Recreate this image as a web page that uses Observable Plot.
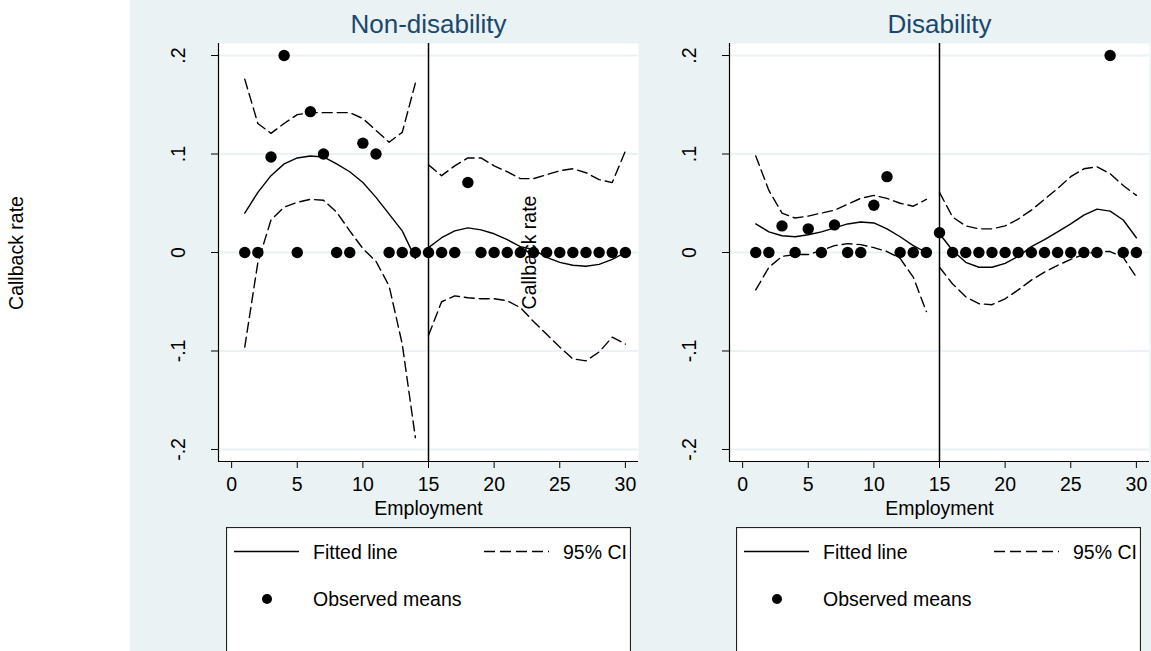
<!DOCTYPE html>
<html><head><meta charset="utf-8">
<script src="https://cdn.jsdelivr.net/npm/d3@7"></script>
<script src="https://cdn.jsdelivr.net/npm/@observablehq/plot@0.6"></script>
<style>
html,body{margin:0;padding:0;background:#fff;}
#page{position:relative;width:1151px;height:651px;overflow:hidden;background:#fff;font-family:"Liberation Sans",Arial,sans-serif;}
#bg{position:absolute;left:130px;top:0;width:1021px;height:651px;background:#EAF2F3;}
.abs{position:absolute;}
#ylab{position:absolute;left:17px;top:253px;transform:translate(-50%,-50%) rotate(-90deg);white-space:nowrap;font-size:19.5px;line-height:1;color:#000;}
</style></head>
<body><div id="page"><div id="bg"></div>
<div id="ylab">Callback rate</div>
<div id="p1" class="abs" style="left:130px;top:0"></div>
<div id="p2" class="abs" style="left:640px;top:0"></div>
<div id="l1" class="abs" style="left:226px;top:527px"></div>
<div id="l2" class="abs" style="left:736px;top:527px"></div>
</div>
<script>
const employment = [1,2,3,4,5,6,7,8,9,10,11,12,13,14,15,16,17,18,19,20,21,22,23,24,25,26,27,28,29,30];
const cutoff = 15;
const panelTitles = ["Non-disability", "Disability"];
const xLabel = "Employment";
const yLabel = "Callback rate";
const xTicks = [0,5,10,15,20,25,30];
const yTickValues = [0.2,0.1,0,-0.1,-0.2];
const yTickLabels = [".2",".1","0","-.1","-.2"];
const xDomain = [-1, 31];
const yDomain = [-0.2122, 0.2122];
const legendLabels = ["Fitted line", "95% CI", "Observed means"];

const nonDisMeans = [0,0,0.097,0.2,0,0.143,0.1,0,0,0.111,0.1,0,0,0,0,0,0,0.071,0,0,0,0,0,0,0,0,0,0,0,0];
const nonDisFit = [0.040,0.061,0.078,0.090,0.096,0.098,0.097,0.090,0.082,0.071,0.056,0.039,0.022,-0.006,
  0.005,0.015,0.022,0.025,0.023,0.019,0.013,0.006,0.003,-0.005,-0.010,-0.013,-0.014,-0.012,-0.007,0.000];
const nonDisHi = [0.176,0.131,0.121,0.131,0.140,0.142,0.142,0.142,0.142,0.136,0.124,0.112,0.122,0.172,
  0.089,0.078,0.088,0.096,0.096,0.088,0.082,0.075,0.075,0.079,0.083,0.085,0.081,0.074,0.071,0.103];
const nonDisLo = [-0.096,-0.010,0.033,0.046,0.051,0.054,0.053,0.041,0.022,0.004,-0.009,-0.034,-0.093,-0.188,
  -0.084,-0.050,-0.044,-0.046,-0.047,-0.047,-0.049,-0.056,-0.070,-0.083,-0.096,-0.108,-0.110,-0.101,-0.086,-0.093];

const disMeans = [0,0,0.027,0,0.024,0,0.028,0,0,0.048,0.077,0,0,0,0.020,0,0,0,0,0,0,0,0,0,0,0,0,0.2,0,0];
const disFit = [0.029,0.021,0.017,0.016,0.018,0.021,0.025,0.029,0.031,0.030,0.024,0.016,0.007,0.000,
  0.019,0.002,-0.010,-0.015,-0.015,-0.011,-0.004,0.006,0.013,0.021,0.029,0.038,0.044,0.042,0.033,0.015];
const disHi = [0.098,0.063,0.040,0.035,0.037,0.040,0.043,0.049,0.055,0.058,0.055,0.050,0.047,0.054,
  0.061,0.036,0.027,0.024,0.024,0.027,0.034,0.043,0.054,0.065,0.077,0.085,0.087,0.080,0.068,0.058];
const disLo = [-0.038,-0.015,-0.004,-0.002,-0.002,0.002,0.007,0.009,0.008,0.005,0.001,-0.006,-0.025,-0.060,
  -0.015,-0.032,-0.045,-0.052,-0.053,-0.047,-0.038,-0.028,-0.020,-0.013,-0.007,-0.002,0.001,0.001,-0.005,-0.025];

const FONT = '"Liberation Sans", Arial, sans-serif';

function panel(title, means, fit, lo, hi, o) {
  const rows = employment.map((e, i) => ({x: e, seg: e < cutoff ? "pre" : "post", mean: means[i], fit: fit[i], lo: lo[i], hi: hi[i]}));
  const extra = o.innerLabel ? [Plot.text([yLabel], {frameAnchor: "left", dx: o.innerLabel, rotate: -90, textAnchor: "middle", lineAnchor: "middle", text: d => d})] : [];
  return Plot.plot({
    width: o.width, height: 520,
    marginLeft: o.ml, marginRight: o.mr, marginTop: 43, marginBottom: 59,
    x: {domain: xDomain, axis: null},
    y: {domain: yDomain, axis: null},
    style: {background: "transparent", fontFamily: FONT, fontSize: "19.5px", color: "black", overflow: "visible"},
    marks: [
      Plot.frame({fill: "white", stroke: "none"}),
      Plot.ruleY(yTickValues, {stroke: "#EAF2F3", strokeWidth: 2}),
      Plot.ruleX([cutoff], {stroke: "black", strokeWidth: 1.5}),
      Plot.line(rows, {x: "x", y: "hi", z: "seg", stroke: "black", strokeWidth: 1.4, strokeDasharray: "10,5"}),
      Plot.line(rows, {x: "x", y: "lo", z: "seg", stroke: "black", strokeWidth: 1.4, strokeDasharray: "10,5"}),
      Plot.line(rows, {x: "x", y: "fit", z: "seg", stroke: "black", strokeWidth: 1.4}),
      Plot.dot(rows, {x: "x", y: "mean", r: 5.7, fill: "black"}),
      Plot.ruleX([xDomain[0]], {stroke: "black", strokeWidth: 1.2}),
      Plot.ruleY([yDomain[0]], {stroke: "black", strokeWidth: 1.2}),
      Plot.axisX({ticks: xTicks, tickSize: 7, tickPadding: 9, label: null, tickFormat: d => String(d)}),
      Plot.axisY({ticks: yTickValues, tickSize: 7, label: null, tickFormat: () => ""}),
      Plot.text(yTickValues, {y: d => d, frameAnchor: "left", dx: -40, rotate: -90, text: (d, i) => yTickLabels[i], textAnchor: "middle", lineAnchor: "middle"}),
      Plot.text([xLabel], {frameAnchor: "bottom", dy: 40, lineAnchor: "top", text: d => d}),
      Plot.text([title], {frameAnchor: "top", dy: -19, lineAnchor: "middle", fontSize: 26, fill: "#1A476F", text: d => d}),
      ...extra
    ]
  });
}

document.getElementById("p1").appendChild(panel(panelTitles[0], nonDisMeans, nonDisFit, nonDisLo, nonDisHi, {width: 520, ml: 88, mr: 12, innerLabel: 311}));
document.getElementById("p2").appendChild(panel(panelTitles[1], disMeans, disFit, disLo, disHi, {width: 511, ml: 89, mr: 2}));

function legend(w) {
  const svg = d3.create("svg").attr("width", w).attr("height", 124).style("font-family", FONT).style("font-size", "19.5px");
  svg.append("rect").attr("x", 0.5).attr("y", 0.5).attr("width", w - 1).attr("height", 200).attr("fill", "white").attr("stroke", "#222").attr("stroke-width", 1.2);
  svg.append("line").attr("x1", 8).attr("x2", 73).attr("y1", 24.5).attr("y2", 24.5).attr("stroke", "black").attr("stroke-width", 1.5);
  svg.append("text").attr("x", 87).attr("y", 32).text(legendLabels[0]);
  svg.append("line").attr("x1", 258).attr("x2", 323).attr("y1", 24.5).attr("y2", 24.5).attr("stroke", "black").attr("stroke-width", 1.5).attr("stroke-dasharray", "11,5");
  svg.append("text").attr("x", 337).attr("y", 32).text(legendLabels[1]);
  svg.append("circle").attr("cx", 41).attr("cy", 72).attr("r", 5).attr("fill", "black");
  svg.append("text").attr("x", 87).attr("y", 79).text(legendLabels[2]);
  return svg.node();
}
document.getElementById("l1").appendChild(legend(405));
document.getElementById("l2").appendChild(legend(405));
</script>
</body></html>
